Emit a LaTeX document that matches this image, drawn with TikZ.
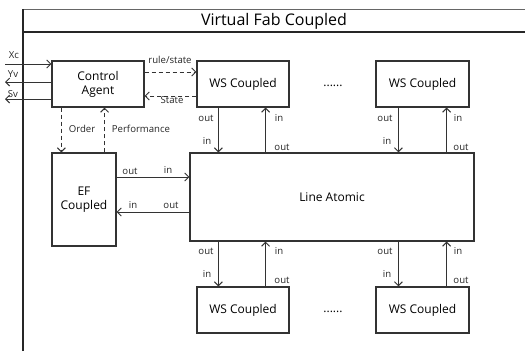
\documentclass[tikz,border=0pt]{standalone}
\usepackage{fontspec}
\setmainfont{Open Sans}
\usetikzlibrary{arrows.meta}
\begin{document}
\begin{tikzpicture}[x=1pt,y=-1pt,
  box/.style={draw=black!80,line width=1.1pt,fill=white,inner sep=0pt,align=center,font=\fontsize{12}{14}\selectfont},
  lbl/.style={inner sep=0pt,font=\fontsize{9.6}{11}\selectfont,text=black!85},
  flow/.style={draw=black!80,line width=1pt,-{Straight Barb[length=4pt,width=8pt]}},
  ctrl/.style={flow,dash pattern=on 4pt off 3pt}]
\useasboundingbox (0,0) rectangle (525,351);

% frame of the coupled model with its title bar
\draw[black!60,line width=1pt] (23,9) -- (525,9);
\draw[black!85,line width=1.3pt] (23,351) -- (23,9);
\draw[black!85,line width=1.3pt] (23,32) -- (525,32);
\node[inner sep=0pt,font=\fontsize{16}{18}\selectfont] (title) at (274,21) {Virtual Fab Coupled};

% components
\node[box,minimum width=92pt,minimum height=46pt] (ca) at (98,84) {Control\\Agent};
\node[box,minimum width=92pt,minimum height=46pt] (w1) at (243,84) {WS Coupled};
\node[box,minimum width=93pt,minimum height=46pt] (w2) at (422.5,84) {WS Coupled};
\node[box,minimum width=64pt,minimum height=93pt] (ef) at (84,199.5) {EF\\Coupled};
\node[box,minimum width=284pt,minimum height=88pt] (line) at (332,197) {Line Atomic};
\node[box,minimum width=92pt,minimum height=46pt] (w3) at (243,310) {WS Coupled};
\node[box,minimum width=93pt,minimum height=46pt] (w4) at (422.5,310) {WS Coupled};
\node[inner sep=0pt,font=\fontsize{12}{14}\selectfont] (d1) at (333,86) {......};
\node[inner sep=0pt,font=\fontsize{12}{14}\selectfont] (d2) at (333,312) {......};

% external ports
\coordinate (xc) at (5,64);
\coordinate (yv) at (5,82);
\coordinate (sv) at (5,99);
\draw[flow] (xc) -- (xc -| ca.west);
\draw[flow] (yv -| ca.west) -- (yv);
\draw[flow] (sv -| ca.west) -- (sv);
\node[lbl] (lxc) at (14,55) {Xc};
\node[lbl] (lyv) at (13,74) {Yv};
\node[lbl] (lsv) at (13,94) {Sv};

% control messages
\draw[ctrl] ([yshift=12pt]ca.east) coordinate (r1) -- (r1 -| w1.west);
\draw[ctrl] ([yshift=-12pt]w1.west) coordinate (s1) -- (s1 -| ca.east);
\node[lbl] (lrule) at (170,60) {rule/state};
\node[lbl] (lstate) at (172,100) {State};
\draw[ctrl] ([xshift=10pt]ca.south west) coordinate (o1) -- (o1 |- ef.north);
\draw[ctrl] ([xshift=-12pt]ef.north east) coordinate (p1) -- (p1 |- ca.south);
\node[lbl] (lorder) at (82,129) {Order};
\node[lbl] (lperf) at (141,129) {Performance};

% EF <-> line
\draw[flow] ([yshift=22.5pt]ef.east) coordinate (e1) -- (e1 -| line.west);
\draw[flow] ([yshift=-12.5pt]ef.east -| line.west) coordinate (e2) -- (e2 -| ef.east);
\node[lbl] (le1) at (130,171) {out};
\node[lbl] (le2) at (168,170) {in};
\node[lbl] (le3) at (133,205) {in};
\node[lbl] (le4) at (171,205) {out};

% upper stations <-> line
\draw[flow] ([xshift=22pt]w1.south west) coordinate (a1) -- (a1 |- line.north);
\draw[flow] ([xshift=-24pt]w1.south east |- line.north) coordinate (b1) -- (b1 |- w1.south);
\draw[flow] ([xshift=23pt]w2.south west) coordinate (a2) -- (a2 |- line.north);
\draw[flow] ([xshift=-23pt]w2.south east |- line.north) coordinate (b2) -- (b2 |- w2.south);
\node[lbl] (u1) at (206,118) {out};
\node[lbl] (u2) at (207,141) {in};
\node[lbl] (u3) at (279,118) {in};
\node[lbl] (u4) at (282,147) {out};
\node[lbl] (u5) at (385,118) {out};
\node[lbl] (u6) at (387,141) {in};
\node[lbl] (u7) at (458,118) {in};
\node[lbl] (u8) at (461,147) {out};

% lower stations <-> line
\draw[flow] (a1 |- line.south) coordinate (c1) -- (c1 |- w3.north);
\draw[flow] (b1 |- w3.north) coordinate (f1) -- (f1 |- line.south);
\draw[flow] (a2 |- line.south) coordinate (c2) -- (c2 |- w4.north);
\draw[flow] (b2 |- w4.north) coordinate (f2) -- (f2 |- line.south);
\node[lbl] (v1) at (206,251) {out};
\node[lbl] (v2) at (207,274) {in};
\node[lbl] (v3) at (279,251) {in};
\node[lbl] (v4) at (282,280) {out};
\node[lbl] (v5) at (385,251) {out};
\node[lbl] (v6) at (387,274) {in};
\node[lbl] (v7) at (458,251) {in};
\node[lbl] (v8) at (461,280) {out};
\end{tikzpicture}
\end{document}
